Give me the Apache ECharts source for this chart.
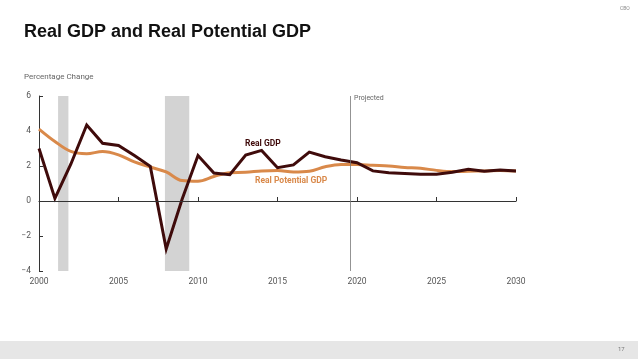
<!DOCTYPE html>
<html><head><meta charset="utf-8">
<script src="https://cdn.jsdelivr.net/npm/echarts@6/dist/echarts.min.js"></script>
<style>html,body{margin:0;padding:0;background:#fff}#c{width:638px;height:359px}</style>
</head><body><div id="c"></div>
<script>
const years = [2000,2001,2002,2003,2004,2005,2006,2007,2008,2009,2010,2011,2012,2013,2014,2015,2016,2017,2018,2019,2020,2021,2022,2023,2024,2025,2026,2027,2028,2029,2030];
const realGDP = [3.0,0.15,2.1,4.34,3.3,3.17,2.6,1.98,-2.74,0.1,2.6,1.6,1.5,2.62,2.89,1.9,2.06,2.79,2.53,2.34,2.19,1.72,1.62,1.57,1.53,1.53,1.64,1.81,1.7,1.77,1.72];
const potentialGDP = [4.11,3.4,2.83,2.7,2.83,2.64,2.23,1.94,1.66,1.17,1.13,1.4,1.62,1.64,1.72,1.75,1.66,1.7,1.96,2.09,2.09,2.04,2.0,1.92,1.87,1.75,1.68,1.7,1.72,1.75,1.72];
const recessions = [[2001.2, 2001.85], [2007.92, 2009.45]];
const projectedStart = 2019.55;
const yTicks = [-4,-2,0,2,4,6];

const chart = echarts.init(document.getElementById('c'));
const pair = arr => years.map((y,i)=>[y,arr[i]]);
chart.setOption({
  animation:false,
  grid:{left:39,right:122,top:96,bottom:88},
  xAxis:{type:'value',min:2000,max:2030,interval:5,
    axisLine:{lineStyle:{color:'#333',width:1.2}},
    axisTick:{inside:true,length:4,lineStyle:{color:'#333'}},
    axisLabel:{color:'#555',fontSize:8.5,fontFamily:'Roboto',margin:6,formatter:v=>String(v)},
    splitLine:{show:false}},
  yAxis:{type:'value',min:-4,max:6,interval:2,
    axisLine:{show:true,lineStyle:{color:'#333',width:1}},
    axisTick:{show:true,inside:true,length:4,lineStyle:{color:'#333'}},
    axisLabel:{color:'#555',fontSize:8.5,fontFamily:'Roboto',margin:8,formatter:v=>v<0?'\u2212'+Math.abs(v):String(v)},
    splitLine:{show:false}},
  series:[
    {type:'line',data:pair(potentialGDP),smooth:0.35,symbol:'none',z:3,
     lineStyle:{color:'#d9894a',width:3},
     markArea:{silent:true,itemStyle:{color:'#d3d3d3'},data:recessions.map(r=>[{xAxis:r[0]},{xAxis:r[1]}])},
     markLine:{silent:true,symbol:'none',label:{show:false},
       data:[{yAxis:0,lineStyle:{color:'#333',width:1,type:'solid'}},
             {xAxis:projectedStart,lineStyle:{color:'#777',width:0.8,type:'solid'}}]}},
    {type:'line',data:pair(realGDP),symbol:'none',z:4,
     lineStyle:{color:'#3f0b0b',width:3,join:'miter'}}
  ],
  graphic:[
    {type:'text',left:24,top:23,style:{text:'Real GDP and Real Potential GDP',font:'900 18px "Liberation Sans", Arial',fill:'#111'}},
    {type:'text',left:24,top:73,style:{text:'Percentage Change',font:'8px Roboto',fill:'#666'}},
    {type:'text',left:354,top:95,style:{text:'Projected',font:'7px Roboto',fill:'#666'}},
    {type:'text',left:245,top:139,style:{text:'Real GDP',font:'bold 8.5px Roboto',fill:'#3f0b0b'}},
    {type:'text',left:255,top:176,style:{text:'Real Potential GDP',font:'bold 8.5px Roboto',fill:'#d9894a'}},
    {type:'text',left:620,top:6,style:{text:'CBO',font:'5px Roboto',fill:'#888'}},
    {type:'rect',left:0,top:341,shape:{width:638,height:18},style:{fill:'#e6e6e6'}},
    {type:'text',left:618,top:346,style:{text:'17',font:'6px Roboto',fill:'#777'}}
  ]
});
</script></body></html>
